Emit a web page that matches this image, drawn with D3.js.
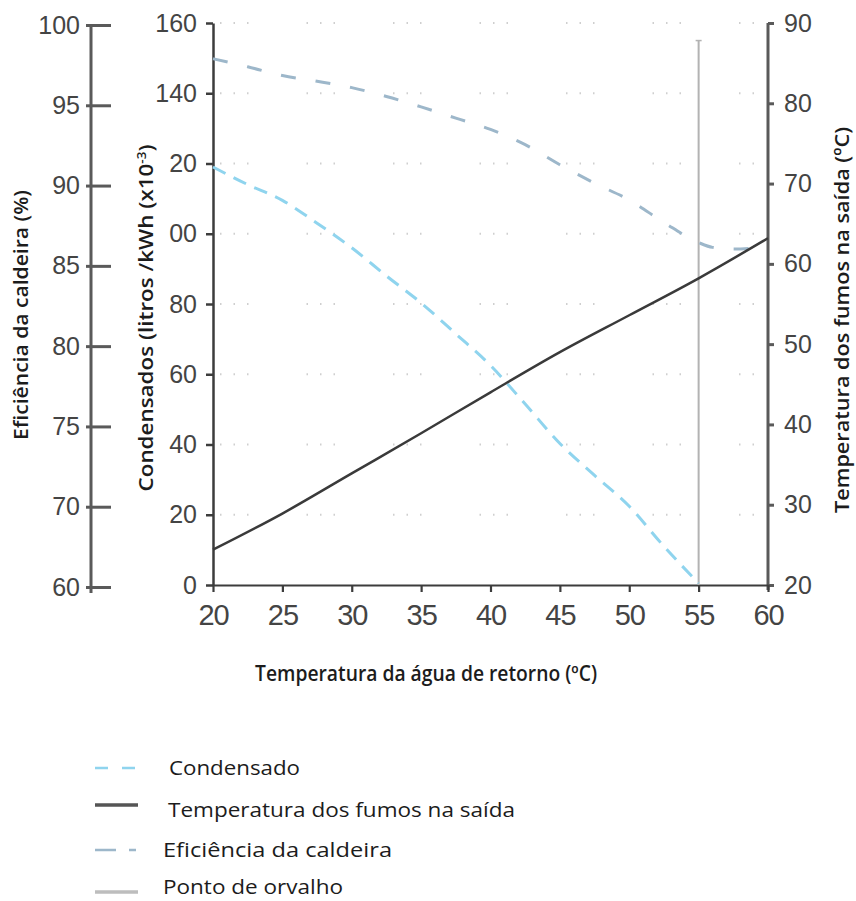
<!DOCTYPE html>
<html>
<head>
<meta charset="utf-8">
<script src="https://cdn.jsdelivr.net/npm/d3@7"></script>
<style>
  body { margin: 0; background: #fff; }
  svg { display: block; }
</style>
</head>
<body>
<svg id="chart" width="856" height="901"></svg>
<script>
// ---------------- DATA ----------------
// Condensado (litros/kWh x10^-3) vs temperatura da água de retorno
const condX = [20, 22.5, 25, 27.5, 30, 32.5, 35, 37.5, 40, 42.5, 45, 47.5, 50, 52.5, 55];
const condensado = [119, 114, 109.5, 103, 96, 88, 80.3, 71.5, 62.5, 51.5, 40.3, 31.2, 22.4, 11, 0.5];

// Eficiência da caldeira (%)
const effX = [20, 22.5, 25, 27.5, 30, 32.5, 35, 37.5, 40, 42.5, 45, 47.5, 50, 52.5, 55, 56, 57.5, 59.5];
const eficiencia = [97.9, 97.4, 96.85, 96.5, 96.1, 95.55, 94.9, 94.2, 93.5, 92.55, 91.3, 90.15, 89.1, 87.7, 86.45, 86.15, 86.05, 86.15];

// Temperatura dos fumos na saída (°C)
const tempX = [20, 25, 30, 35, 40, 45, 50, 55, 60];
const temperatura = [24.4, 28.9, 33.9, 38.9, 44.0, 49.0, 53.6, 58.2, 63.2];

// Ponto de orvalho
const dewPointX = 55;
const dewPointTop = 155; // in condensado units

// Axes ticks / labels
const xTicks = [20, 25, 30, 35, 40, 45, 50, 55, 60];
const condTickValues = [0, 20, 40, 60, 80, 100, 120, 140, 160];
const condTickLabels = ["0", "20", "40", "60", "80", "00", "20", "140", "160"];
const effTickLabels = ["100", "95", "90", "85", "80", "75", "70", "60"];
const tempTicks = [20, 30, 40, 50, 60, 70, 80, 90];

const xTitle = "Temperatura da água de retorno (ºC)";
const effTitle = "Eficiência da caldeira (%)";
const tempTitle = "Temperatura dos fumos na saída (ºC)";

const legendLabels = ["Condensado", "Temperatura dos fumos na saída", "Eficiência da caldeira", "Ponto de orvalho"];

// ---------------- LAYOUT / STYLE ----------------
const plot = { left: 213, right: 768, top: 23, bottom: 585 };
const colors = {
  cond: "#8fd4ee",
  eff: "#9db7ca",
  temp: "#3a3a3a",
  dew: "#b3b3b3",
  axis: "#3c3c3c",
  axisGray: "#5a5a5a",
  tick: "#444",
  text: "#1c1c1c",
  grid: "#cfcfcf"
};

const svg = d3.select("#chart");

// scales
const x = d3.scaleLinear().domain([20, 60]).range([plot.left, plot.right]);
const yC = d3.scaleLinear().domain([0, 160]).range([plot.bottom, plot.top]);
const yT = d3.scaleLinear().domain([20, 90]).range([plot.bottom, plot.top]);
const effPos = d3.scalePoint().domain(effTickLabels).range([25, 587]);
const yE = d3.scaleLinear().domain([70, 100]).range([effPos("70"), effPos("100")]);

// ---------------- GRID (dotted) ----------------
svg.append("g").selectAll("line")
  .data(condTickValues.filter(v => v > 0))
  .join("line")
  .attr("x1", plot.left).attr("x2", plot.right - 4)
  .attr("y1", d => yC(d)).attr("y2", d => yC(d))
  .attr("stroke", colors.grid)
  .attr("stroke-width", 2)
  .attr("stroke-dasharray", "1.5,12,1.5,12,1.5,58")
  .attr("stroke-dashoffset", 79.5);

// ---------------- AXES ----------------
function styleAxis(g, color, width, font, size, fill) {
  g.select(".domain").attr("stroke", color).attr("stroke-width", width);
  g.selectAll(".tick line").attr("stroke", color).attr("stroke-width", width);
  g.selectAll(".tick text")
    .attr("fill", fill)
    .style("font-family", font)
    .style("font-size", size + "px");
}

// left efficiency axis
const gE = svg.append("g").attr("transform", "translate(91,0)")
  .call(d3.axisLeft(effPos).tickSize(5).tickSizeOuter(0).tickPadding(6));
gE.select(".domain").attr("d", `M0,${effPos("100")}V${effPos("60") + 6}`);
gE.selectAll(".tick line").attr("x1", 20).attr("x2", -5);
styleAxis(gE, colors.axisGray, 3, "'Liberation Sans', Arial, sans-serif", 25, colors.tick);

// middle condensado axis
const gC = svg.append("g").attr("transform", `translate(${plot.left},0)`)
  .call(d3.axisLeft(yC).tickValues(condTickValues)
    .tickFormat((d, i) => condTickLabels[i]).tickSize(7).tickSizeOuter(0).tickPadding(9));
styleAxis(gC, colors.axis, 2.5, "'Liberation Sans', Arial, sans-serif", 25, colors.tick);

// right temperature axis
const gT = svg.append("g").attr("transform", `translate(${plot.right},0)`)
  .call(d3.axisRight(yT).tickValues(tempTicks).tickSize(6).tickSizeOuter(0).tickPadding(10));
gT.select(".domain").attr("d", `M0,${yT(90)}V${yT(20) + 5}`);
styleAxis(gT, colors.axisGray, 3, "'Liberation Sans', Arial, sans-serif", 25, colors.tick);

// bottom x axis
const gX = svg.append("g").attr("transform", `translate(0,${plot.bottom})`)
  .call(d3.axisBottom(x).tickValues(xTicks).tickSize(7).tickSizeOuter(0));
styleAxis(gX, colors.axis, 2.2, "'Liberation Sans Narrow', 'Arial Narrow', sans-serif", 29, colors.tick);
gX.selectAll(".tick text").attr("y", 40).attr("dy", 0).style("letter-spacing", "-1px");

// ---------------- SERIES ----------------
const lineC = d3.line().x(d => x(d[0])).y(d => yC(d[1])).curve(d3.curveMonotoneX);
const lineE = d3.line().x(d => x(d[0])).y(d => yE(d[1])).curve(d3.curveMonotoneX);
const lineT = d3.line().x(d => x(d[0])).y(d => yT(d[1])).curve(d3.curveMonotoneX);

// dew point vertical line
svg.append("line")
  .attr("x1", x(dewPointX)).attr("x2", x(dewPointX))
  .attr("y1", yC(0)).attr("y2", yC(dewPointTop))
  .attr("stroke", colors.dew).attr("stroke-width", 2);
svg.append("line")
  .attr("x1", x(dewPointX) - 3).attr("x2", x(dewPointX) + 3)
  .attr("y1", yC(dewPointTop)).attr("y2", yC(dewPointTop))
  .attr("stroke", colors.dew).attr("stroke-width", 1.5);

svg.append("path")
  .datum(effX.map((v, i) => [v, eficiencia[i]]))
  .attr("d", lineE)
  .attr("fill", "none").attr("stroke", colors.eff)
  .attr("stroke-width", 3).attr("stroke-dasharray", "15,20");

svg.append("path")
  .datum(condX.map((v, i) => [v, condensado[i]]))
  .attr("d", lineC)
  .attr("fill", "none").attr("stroke", colors.cond)
  .attr("stroke-width", 3).attr("stroke-dasharray", "14,9");

svg.append("path")
  .datum(tempX.map((v, i) => [v, temperatura[i]]))
  .attr("d", lineT)
  .attr("fill", "none").attr("stroke", colors.temp)
  .attr("stroke-width", 2.5);

// ---------------- TITLES ----------------
const titleFont = "'Open Sans', 'Noto Sans', sans-serif";

svg.append("text")
  .attr("transform", "translate(28,315) rotate(-90)")
  .attr("text-anchor", "middle")
  .attr("textLength", 250).attr("lengthAdjust", "spacingAndGlyphs")
  .style("font-family", titleFont).style("font-size", "20px").style("font-weight", 600)
  .attr("fill", colors.text)
  .text(effTitle);

const condTitle = svg.append("text")
  .attr("transform", "translate(153,318) rotate(-90)")
  .attr("text-anchor", "middle")
  .attr("textLength", 347).attr("lengthAdjust", "spacingAndGlyphs")
  .style("font-family", titleFont).style("font-size", "20px").style("font-weight", 600)
  .attr("fill", colors.text);
condTitle.append("tspan").text("Condensados (litros /kWh (x10");
condTitle.append("tspan").attr("dy", -7).style("font-size", "12px").text("-3");
condTitle.append("tspan").attr("dy", 7).text(")");

svg.append("text")
  .attr("transform", "translate(849,320) rotate(-90)")
  .attr("text-anchor", "middle")
  .attr("textLength", 386).attr("lengthAdjust", "spacingAndGlyphs")
  .style("font-family", titleFont).style("font-size", "20px").style("font-weight", 600)
  .attr("fill", colors.text)
  .text(tempTitle);

svg.append("text")
  .attr("x", 426).attr("y", 681)
  .attr("text-anchor", "middle")
  .attr("textLength", 342).attr("lengthAdjust", "spacingAndGlyphs")
  .style("font-family", titleFont).style("font-size", "21px").style("font-weight", 600)
  .attr("fill", colors.text)
  .text(xTitle);

// ---------------- LEGEND ----------------
const legendStyle = [
  { y: 768, ty: 775, tx: 169, tl: 131, stroke: colors.cond, dash: "13,14", w: 2.5 },
  { y: 805, ty: 817, tx: 168, tl: 347, stroke: "#555", dash: null, w: 3.5 },
  { y: 850, ty: 857, tx: 163, tl: 229, stroke: colors.eff, dash: "21,13,7,100", w: 2.5 },
  { y: 892, ty: 894, tx: 163, tl: 180, stroke: "#bdbdbd", dash: null, w: 3.5 }
];
const lg = svg.append("g");
legendLabels.forEach((label, i) => {
  const s = legendStyle[i];
  lg.append("line")
    .attr("x1", 95).attr("x2", 138).attr("y1", s.y).attr("y2", s.y)
    .attr("stroke", s.stroke).attr("stroke-width", s.w)
    .attr("stroke-dasharray", s.dash);
  lg.append("text")
    .attr("x", s.tx).attr("y", s.ty)
    .attr("textLength", s.tl).attr("lengthAdjust", "spacingAndGlyphs")
    .style("font-family", titleFont).style("font-size", "20px")
    .attr("fill", colors.text)
    .text(label);
});
</script>
</body>
</html>
